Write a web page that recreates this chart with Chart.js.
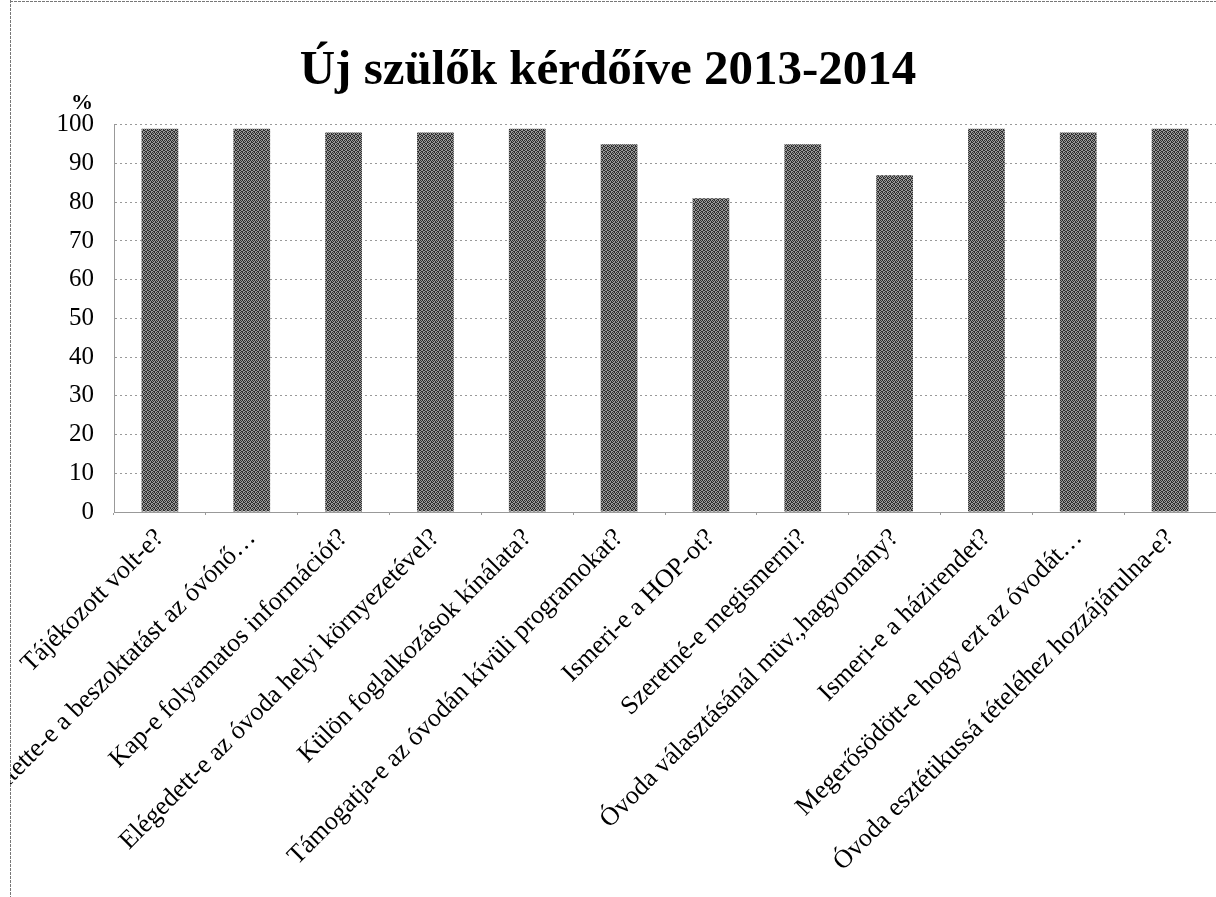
<!DOCTYPE html>
<html>
<head>
<meta charset="utf-8">
<style>
  html, body { margin: 0; padding: 0; background: #ffffff; }
  #wrap { position: relative; width: 1216px; height: 897px; }
</style>
<script src="https://cdn.jsdelivr.net/npm/chart.js@4.4.1/dist/chart.umd.min.js"></script>
</head>
<body>
<div id="wrap"><canvas id="c" width="1216" height="897"></canvas></div>
<script>
const chartTitle = 'Új szülők kérdőíve 2013-2014';
const unitLabel = '%';
const categories = [
  'Tájékozott volt-e?',
  'Segítette-e a beszoktatást az óvónő…',
  'Kap-e folyamatos információt?',
  'Elégedett-e az óvoda helyi környezetével?',
  'Külön foglalkozások kínálata?',
  'Támogatja-e az óvodán kívüli programokat?',
  'Ismeri-e a HOP-ot?',
  'Szeretné-e megismerni?',
  'Óvoda választásánál müv.,hagyomány?',
  'Ismeri-e a házirendet?',
  'Megerősödött-e hogy ezt az óvodát…',
  'Óvoda esztétikussá tételéhez hozzájárulna-e?'
];
const values = [99, 99, 98, 98, 99, 95, 81, 95, 87, 99, 98, 99];
const yMin = 0;
const yMax = 100;
const yStep = 10;

const SERIF = "'Liberation Serif', 'Times New Roman', serif";

function makeBarPattern() {
  const p = document.createElement('canvas');
  p.width = 4; p.height = 4;
  const g = p.getContext('2d');
  g.fillStyle = '#9a9a9a';
  g.fillRect(0, 0, 4, 4);
  g.fillStyle = '#2e2e2e';
  g.fillRect(0, 0, 1, 1); g.fillRect(2, 0, 1, 1);
  g.fillRect(1, 1, 1, 1); g.fillRect(3, 1, 1, 1);
  g.fillRect(0, 2, 1, 1); g.fillRect(3, 2, 1, 1);
  g.fillRect(1, 3, 1, 1); g.fillRect(2, 3, 1, 1);
  return g.createPattern(p, 'repeat');
}

const extras = {
  id: 'extras',
  afterDraw(chart) {
    const ctx = chart.ctx;
    const area = chart.chartArea;
    ctx.save();
    // unit label above the y axis
    ctx.fillStyle = '#000';
    ctx.font = 'bold 22px ' + SERIF;
    ctx.textAlign = 'right';
    ctx.textBaseline = 'middle';
    ctx.fillText(unitLabel, area.left - 21, area.top - 21);
    // scanned page margin and frame line
    ctx.fillStyle = '#ffffff';
    ctx.fillRect(0, 0, 10, chart.height);
    ctx.strokeStyle = '#777';
    ctx.lineWidth = 1;
    ctx.setLineDash([3, 1]);
    ctx.beginPath();
    ctx.moveTo(10.5, 0); ctx.lineTo(10.5, chart.height);
    ctx.moveTo(10, 1.5); ctx.lineTo(chart.width, 1.5);
    ctx.stroke();
    ctx.restore();
  }
};

new Chart(document.getElementById('c'), {
  type: 'bar',
  data: {
    labels: categories,
    datasets: [{
      data: values,
      backgroundColor: makeBarPattern(),
      borderWidth: 0,
      barPercentage: 0.4,
      categoryPercentage: 1.0
    }]
  },
  options: {
    responsive: false,
    animation: false,
    devicePixelRatio: 1,
    layout: { padding: { left: 0, right: 0, top: 0, bottom: 0 } },
    plugins: {
      legend: { display: false },
      tooltip: { enabled: false },
      title: {
        display: true,
        text: chartTitle,
        color: '#000',
        font: { family: SERIF, size: 49, weight: 'bold' },
        padding: { top: 42, bottom: 24 }
      }
    },
    scales: {
      x: {
        grid: {
          drawOnChartArea: false,
          drawTicks: true,
          tickLength: 5,
          color: '#999',
          tickBorderDash: [2, 2]
        },
        border: { display: true, color: '#999', dash: [2, 3] },
        ticks: {
          color: '#000',
          font: { family: SERIF, size: 26 },
          minRotation: 45,
          maxRotation: 45,
          autoSkip: false,
          padding: 6
        },
        afterFit(scale) { scale.height = 385; }
      },
      y: {
        min: yMin,
        max: yMax,
        grid: {
          color: '#999',
          borderDash: [2, 4],
          drawTicks: false
        },
        border: { display: true, color: '#999', dash: [2, 3] },
        ticks: {
          stepSize: yStep,
          color: '#000',
          font: { family: SERIF, size: 25 },
          padding: 20
        },
        afterFit(scale) { scale.width = 114; }
      }
    }
  },
  plugins: [extras]
});
</script>
</body>
</html>
